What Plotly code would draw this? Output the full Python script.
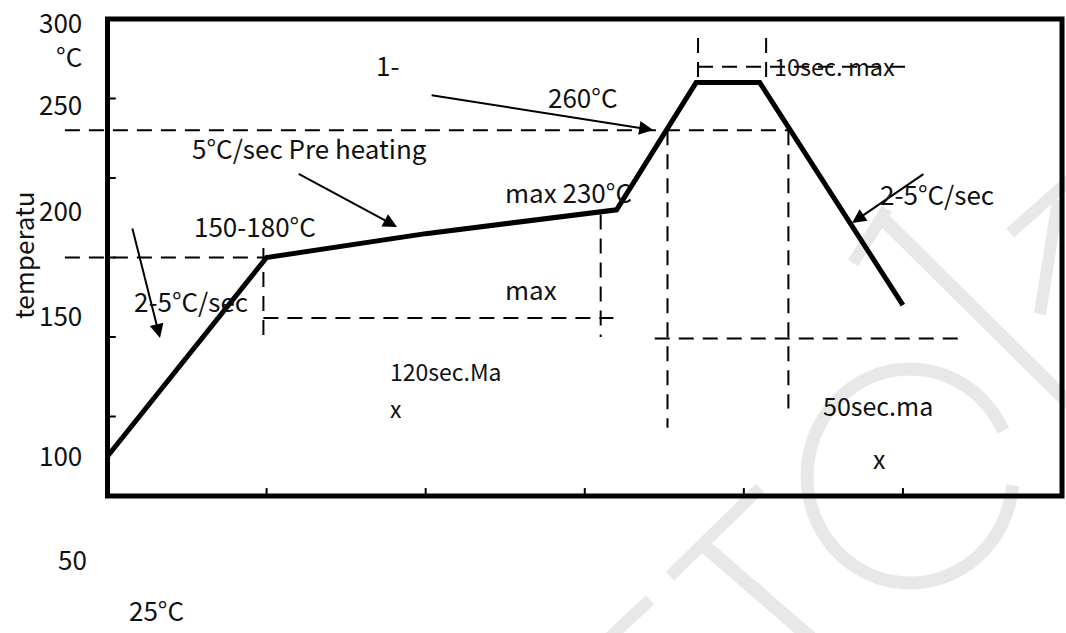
import math
import plotly.graph_objects as go

# ---------------- data ----------------
time_s = [0, 50, 100, 160, 185, 205, 250]
temp_c = [25, 150, 165, 180, 260, 260, 120]

x_ticks = [50, 100, 150, 200, 250]
y_ticks = [50, 100, 150, 200, 250]
x_frame = [0, 300]
y_frame = [0, 300]

# dashed guide lines: (x0, y0) -> (x1, y1)
guide_x0 = [49, 155, 49, 176, 214, 172, -13.4, -13.4, 185.6, 207, 185.6]
guide_y0 = [156, 177, 112, 230, 230, 99, 230, 150, 288, 288, 270]
guide_x1 = [49, 155, 159, 176, 214, 269, 214, 49, 185.6, 207, 251]
guide_y1 = [100, 100, 112, 43, 55, 99, 230, 150, 261, 262, 270]

# arrows: tail -> tip
arrow_tail_x = [7.7, 59.6, 101.4, 256.9]
arrow_tail_y = [169.2, 203.1, 252.2, 203.1]
arrow_tip_x = [16.5, 91.0, 171.5, 234.0]
arrow_tip_y = [99.4, 169.2, 230.2, 171.7]

# scale-like labels at the left
axis_labels = ["250", "200", "150", "100", "50"]
axis_label_x = [-7.4, -7.4, -7.4, -7.4, -5.8]
axis_label_y = [247, 180.5, 114, 26, -39.5]
top_label = "300<br>°C"

# free text labels
texts = ["25°C", "1-", "260°C", "5°C/sec Pre heating", "150-180°C", "max 230°C",
         "max", "120sec.Ma", "x", "50sec.ma", "x", "10sec. max", "2-5°C/sec", "2-5°C/sec"]
text_x = [6.1, 88.1, 149.4, 25.9, 26.6, 124.3, 124.3, 88.1, 88.1, 242.3, 242.5, 208.8, 7.7, 242.2]
text_y = [-71.5, 271.5, 251, 219.5, 170, 191.5, 130.5, 78.5, 55.5, 57.5, 24, 270.5, 123, 190]
text_anchor = ["left", "center", "center", "left", "left", "left", "left", "left", "left",
               "center", "center", "left", "left", "left"]
text_size = [26, 26, 26, 26, 26, 26, 26, 23, 23, 25, 25, 23.5, 26, 26]

y_title = "temperatu"

FONT = "Noto Sans CJK SC"
FS = 26
INK = "#111111"
WM = "#e8e8e8"

fig = go.Figure()
fig.add_trace(go.Scatter(x=time_s, y=temp_c, mode="lines",
                         line=dict(color="black", width=5), showlegend=False,
                         hoverinfo="skip"))

shapes = []

# ---- faint watermark (decoration, behind everything) ----
def px2d(px, py):
    return (px - 107.5) / 3.1817, (496 - py) / 1.59

def seg(p0, p1, w):
    a = px2d(*p0)
    b = px2d(*p1)
    return dict(type="line", xref="x", yref="y", x0=a[0], y0=a[1], x1=b[0], y1=b[1],
                line=dict(color=WM, width=w), layer="below")

shapes.append(seg((878, 214), (1070, 404), 14))
shapes.append(seg((853, 263), (887, 209), 12))
shapes.append(seg((1010, 233), (1070, 180), 12))
shapes.append(seg((1040, 314), (1058, 200), 12))
shapes.append(seg((700, 542), (813, 640), 14))
shapes.append(seg((670, 576), (760, 488), 12))
shapes.append(seg((607, 640), (650, 600), 12))
# ring
pts = []
for k in range(0, 61):
    ang = math.radians(25 + k * (330 / 60))
    px = 910 + 103 * math.cos(ang)
    py = 476 - 107 * math.sin(ang)
    pts.append(px2d(px, py))
path = "M " + " L ".join(f"{p[0]:.2f},{p[1]:.2f}" for p in pts)
shapes.append(dict(type="path", xref="x", yref="y", path=path,
                   line=dict(color=WM, width=13), layer="below"))

# ---- frame and ticks ----
shapes.append(dict(type="rect", xref="x", yref="y",
                   x0=x_frame[0], x1=x_frame[1], y0=y_frame[0], y1=y_frame[1],
                   line=dict(color="black", width=5), layer="above"))
for xt in x_ticks:
    shapes.append(dict(type="line", xref="x", yref="y", x0=xt, x1=xt,
                       y0=y_frame[0], y1=y_frame[0] + 5,
                       line=dict(color="black", width=2)))
for yt in y_ticks:
    shapes.append(dict(type="line", xref="x", yref="y", y0=yt, y1=yt,
                       x0=x_frame[0], x1=x_frame[0] + 2.6,
                       line=dict(color="black", width=2)))
for a, b, c, d in zip(guide_x0, guide_y0, guide_x1, guide_y1):
    shapes.append(dict(type="line", xref="x", yref="y", x0=a, y0=b, x1=c, y1=d,
                       line=dict(color="black", width=2, dash="15px,9px")))

annotations = []
for tx, ty, hx, hy in zip(arrow_tail_x, arrow_tail_y, arrow_tip_x, arrow_tip_y):
    annotations.append(dict(x=hx, y=hy, ax=tx, ay=ty, xref="x", yref="y",
                            axref="x", ayref="y", text="", showarrow=True,
                            arrowhead=2, arrowsize=1.4, arrowwidth=2,
                            arrowcolor="black"))
annotations.append(dict(x=-7.4, y=311.3, xref="x", yref="y", text=top_label,
                        showarrow=False, xanchor="right", yanchor="top", align="right",
                        font=dict(family=FONT, size=FS, color=INK)))
for t, lx, ly in zip(axis_labels, axis_label_x, axis_label_y):
    annotations.append(dict(x=lx, y=ly, xref="x", yref="y", text=t, showarrow=False,
                            xanchor="right", yanchor="middle",
                            font=dict(family=FONT, size=FS, color=INK)))
for t, lx, ly, an, fs in zip(texts, text_x, text_y, text_anchor, text_size):
    annotations.append(dict(x=lx, y=ly, xref="x", yref="y", text=t, showarrow=False,
                            xanchor=an, yanchor="middle",
                            font=dict(family=FONT, size=fs, color=INK)))
annotations.append(dict(x=-26.9, y=151.5, xref="x", yref="y", text=y_title,
                        showarrow=False, textangle=-90, xanchor="center",
                        yanchor="middle",
                        font=dict(family=FONT, size=FS, color=INK)))

fig.update_layout(
    width=1066, height=633,
    margin=dict(l=0, r=0, t=0, b=0),
    paper_bgcolor="white", plot_bgcolor="white",
    xaxis=dict(range=[-33.79, 301.25], visible=False, fixedrange=True),
    yaxis=dict(range=[-86.16, 311.95], visible=False, fixedrange=True),
    shapes=shapes, annotations=annotations,
    showlegend=False,
)
fig.write_html("out.html", config={"displayModeBar": False},
               post_script="document.body.style.margin='0px';")
